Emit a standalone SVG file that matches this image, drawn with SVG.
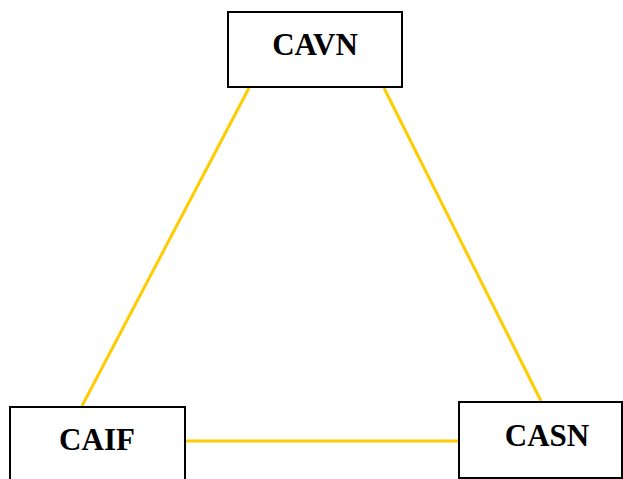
<svg xmlns="http://www.w3.org/2000/svg" width="623" height="479" viewBox="0 0 623 479">
<style>
.box{fill:#fff;stroke:#000;stroke-width:2}
.lbl{font-family:"Liberation Serif",serif;font-weight:bold;font-size:31px;text-anchor:middle;fill:#000}
.conn{stroke:#FFCC00;stroke-width:3;fill:none}
</style>
<rect width="623" height="479" fill="#fff"/>
<g id="connectors">
<line class="conn" x1="249" y1="88" x2="82" y2="406"/>
<line class="conn" x1="384" y1="88" x2="541" y2="401"/>
<line class="conn" x1="186" y1="441" x2="459" y2="441"/>
</g>
<g id="CAVN">
<rect class="box" x="228" y="12" width="174" height="75"/>
<text class="lbl" x="315" y="55">CAVN</text>
</g>
<g id="CAIF">
<rect class="box" x="10" y="407" width="175" height="80"/>
<text class="lbl" x="97" y="450">CAIF</text>
</g>
<g id="CASN">
<rect class="box" x="459" y="402" width="163" height="76"/>
<text class="lbl" x="547" y="446">CASN</text>
</g>
</svg>
